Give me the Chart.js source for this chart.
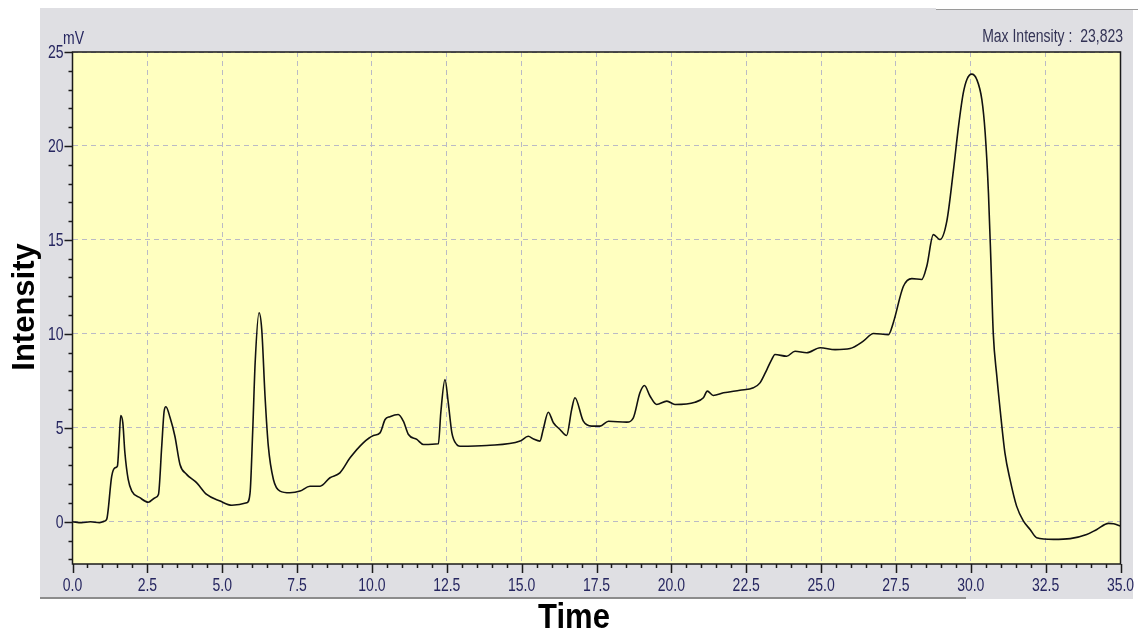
<!DOCTYPE html>
<html lang="en">
<head>
    <meta charset="UTF-8">
    <title>Chromatogram</title>
    <script src="https://cdn.jsdelivr.net/npm/chart.js"></script>
    <style>
        body { margin: 0; background: #ffffff; }
        canvas { display: block; }
    </style>
</head>
<body>
    <canvas id="chart" width="1138" height="632"></canvas>

    <script>
        // retention time (min)
        const times = [
            0, 0.3, 0.6, 0.9, 1.05, 1.14, 1.31, 1.42, 1.50, 1.56,
            1.61, 1.68, 1.75, 1.86, 1.98, 2.25, 2.53, 2.76, 2.87, 2.98,
            3.06, 3.12, 3.26, 3.42, 3.59, 3.81, 4.15, 4.48, 4.93, 5.32,
            5.82, 5.93, 6.02, 6.10, 6.23, 6.32, 6.43, 6.54, 6.71,
            6.93, 7.26, 7.60, 7.93, 8.27, 8.60, 8.93, 9.27, 9.71, 10.05,
            10.27, 10.44, 10.60, 10.88, 11.05, 11.22, 11.50, 11.72, 12.22, 12.30,
            12.44, 12.55, 12.67, 12.83, 12.94, 13.83, 14.95, 15.22, 15.40, 15.61,
            15.72, 15.89, 16.06, 16.28, 16.50, 16.67, 16.78, 17.06, 17.34, 17.62,
            17.90, 18.51, 18.73, 18.95, 19.10, 19.29, 19.51, 19.85, 20.12, 20.79,
            21.07, 21.20, 21.40, 21.74, 22.29, 22.74, 22.96, 23.19, 23.35, 23.46,
            23.85, 24.13, 24.52, 24.97, 25.47, 25.97, 26.41, 26.75, 27.25, 27.41,
            27.75, 28.03, 28.36, 28.53, 28.75, 28.97, 29.20, 29.42, 29.59, 29.75,
            29.87, 30.03, 30.20, 30.37, 30.48, 30.59, 30.67, 30.75, 30.87, 30.98,
            31.14, 31.31, 31.53, 31.76, 31.98, 32.20, 32.76, 33.32, 33.87, 34.21,
            34.60, 34.77, 35.0
        ];
        // detector signal (mV)
        const intensity = [
            0, -0.05, 0.0, -0.05, 0.02, 0.12, 2.43, 2.87, 2.96, 4.38,
            5.65, 5.27, 3.67, 2.25, 1.63, 1.28, 1.04, 1.28, 1.45, 4.02,
            5.88, 6.12, 5.53, 4.55, 3.05, 2.52, 2.07, 1.45, 1.1, 0.88,
            1.01, 1.54, 4.9, 8.46, 11.12, 10.23, 6.68, 4.02, 2.25,
            1.63, 1.54, 1.63, 1.89, 1.89, 2.34, 2.6, 3.4, 4.2, 4.59,
            4.73, 5.44, 5.59, 5.71, 5.35, 4.64, 4.38, 4.11, 4.15, 5.8,
            7.57, 6.33, 4.73, 4.11, 4.02, 4.06, 4.29, 4.55, 4.4, 4.29,
            4.91, 5.83, 5.27, 4.91, 4.59, 5.97, 6.6, 5.35, 5.09, 5.09,
            5.35, 5.3, 5.53, 6.86, 7.25, 6.68, 6.24, 6.42, 6.24, 6.36,
            6.6, 6.95, 6.72, 6.86, 7.0, 7.13, 7.39, 8.1, 8.63, 8.9,
            8.81, 9.07, 8.99, 9.26, 9.16, 9.22, 9.61, 10.02, 9.96, 10.58,
            12.53, 12.94, 12.89, 13.6, 15.28, 15.02, 16.0, 18.7, 21.04, 22.82,
            23.54, 23.82, 23.54, 22.46, 20.7, 17.5, 13.95, 10.05, 7.74, 5.97,
            3.67, 2.25, 0.83, 0.03, -0.41, -0.85, -0.94, -0.9, -0.68, -0.41,
            -0.09, -0.11, -0.23
        ];
        const xMajorStep = 2.5, xMinorStep = 0.5;
        const yMajorStep = 5, yMinorStep = 1;
        const maxLabel = 'Max Intensity :  23,823';
        const unitLabel = 'mV';

        const labelFont = "14px 'Liberation Sans', Arial, sans-serif";
        const stretch = 1.35;
        const tickColor = '#262660';

        function stretchedText(ctx, text, x, y) {
            ctx.save();
            ctx.translate(x, y);
            ctx.scale(1, stretch);
            ctx.fillText(text, 0, 0);
            ctx.restore();
        }

        const framePlugin = {
            id: 'frame',
            beforeDraw(chart) {
                const { ctx, chartArea: a } = chart;
                ctx.save();
                ctx.fillStyle = '#ffffff';
                ctx.fillRect(0, 0, chart.width, chart.height);
                ctx.fillStyle = '#dfdfe3';
                ctx.fillRect(40, 8, 1093, 591);
                ctx.fillStyle = '#8c8c8c';
                ctx.fillRect(40, 597, 926, 2);
                ctx.fillStyle = '#ffffff';
                ctx.fillRect(936, 0, 202, 9);
                ctx.fillStyle = '#9a9a9a';
                ctx.fillRect(936, 9, 202, 1);
                ctx.fillStyle = '#ffffc0';
                ctx.fillRect(a.left, a.top, a.right - a.left, a.bottom - a.top);
                ctx.restore();
            },
            afterDraw(chart) {
                const { ctx, chartArea: a, scales: { x, y } } = chart;
                ctx.save();
                ctx.strokeStyle = '#1a1a1a';
                ctx.lineWidth = 1.5;
                ctx.strokeRect(a.left, a.top, a.right - a.left, a.bottom - a.top);

                // tick marks, major + minor
                ctx.beginPath();
                for (let v = -2; v <= 25; v += yMinorStep) {
                    const py = Math.round(y.getPixelForValue(v)) + 0.5;
                    const len = v % yMajorStep === 0 ? 8 : 4;
                    ctx.moveTo(a.left, py);
                    ctx.lineTo(a.left - len, py);
                }
                for (let i = 0; i <= 70; i++) {
                    const px = Math.round(x.getPixelForValue(i * xMinorStep)) + 0.5;
                    const len = i % 5 === 0 ? 9 : 4;
                    ctx.moveTo(px, a.bottom);
                    ctx.lineTo(px, a.bottom + len);
                }
                ctx.stroke();

                // tick labels (narrow, tall look of the original)
                ctx.font = labelFont;
                ctx.fillStyle = tickColor;
                ctx.textBaseline = 'middle';
                ctx.textAlign = 'right';
                y.ticks.forEach(t => stretchedText(ctx, String(t.value), a.left - 9, y.getPixelForValue(t.value) + 1));
                ctx.textAlign = 'center';
                x.ticks.forEach(t => stretchedText(ctx, t.value.toFixed(1), x.getPixelForValue(t.value), 586));

                ctx.textAlign = 'left';
                stretchedText(ctx, unitLabel, 63, 39);
                ctx.fillStyle = '#333355';
                ctx.textAlign = 'right';
                stretchedText(ctx, maxLabel, 1123, 37);

                // axis titles
                ctx.fillStyle = '#000000';
                ctx.font = "bold 31px 'Liberation Sans', Arial, sans-serif";
                ctx.textAlign = 'center';
                ctx.save();
                ctx.translate(574, 618);
                ctx.scale(1, 1.15);
                ctx.fillText('Time', 0, 0);
                ctx.restore();
                ctx.translate(25, 307);
                ctx.rotate(-Math.PI / 2);
                ctx.fillText('Intensity', 0, 0);
                ctx.restore();
            }
        };

        const ctx = document.getElementById('chart').getContext('2d');
        const chart = new Chart(ctx, {
            type: 'scatter',
            data: {
                datasets: [{
                    label: 'Signal',
                    data: times.map((t, i) => ({ x: t, y: intensity[i] })),
                    showLine: true,
                    borderColor: '#111111',
                    borderWidth: 1.6,
                    pointRadius: 0,
                    cubicInterpolationMode: 'monotone',
                    fill: false
                }]
            },
            options: {
                responsive: false,
                animation: false,
                layout: { padding: { top: 52, right: 17.5, left: 0, bottom: 0 } },
                plugins: { legend: { display: false }, tooltip: { enabled: false } },
                scales: {
                    x: {
                        type: 'linear',
                        min: 0, max: 35,
                        afterFit: s => { s.height = 68; s.paddingLeft = 0; s.paddingRight = 0; },
                        grid: { color: '#babac6', drawTicks: false },
                        border: { display: false, dash: [5, 4] },
                        ticks: { stepSize: xMajorStep, autoSkip: false, maxRotation: 0, display: false }
                    },
                    y: {
                        min: -2.25, max: 25,
                        afterFit: s => { s.width = 72.5; s.paddingTop = 0; s.paddingBottom = 0; },
                        afterBuildTicks: s => { s.ticks = s.ticks.filter(t => t.value % yMajorStep === 0); },
                        grid: { color: '#babac6', drawTicks: false },
                        border: { display: false, dash: [5, 4] },
                        ticks: { stepSize: yMajorStep, display: false }
                    }
                }
            },
            plugins: [framePlugin]
        });
    </script>
</body>
</html>
